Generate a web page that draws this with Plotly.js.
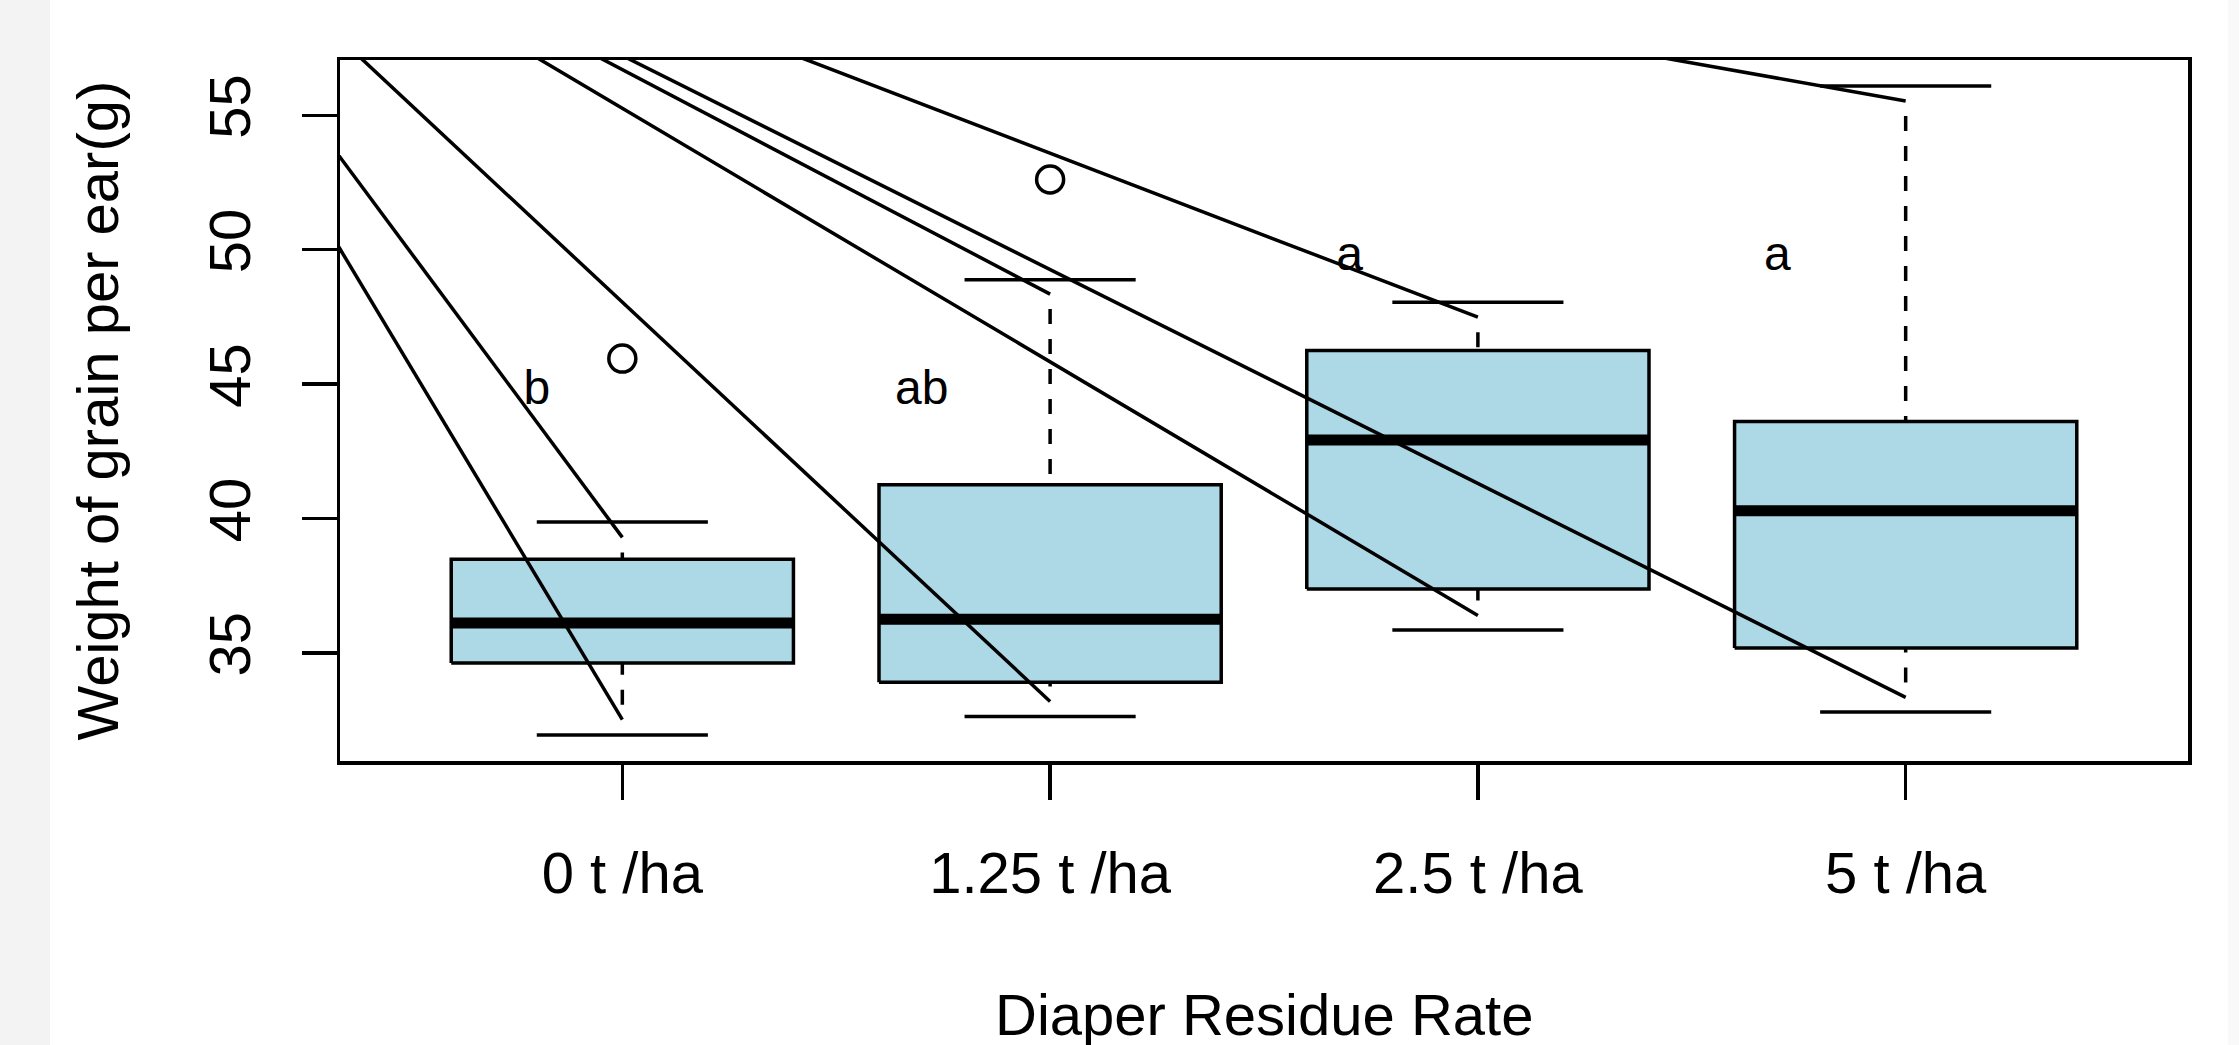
<!DOCTYPE html>
<html>
<head>
<meta charset="utf-8">
<script src="https://cdn.plot.ly/plotly-3.0.1.min.js"></script>
<style>
  html, body { margin: 0; padding: 0; background: #ffffff; }
  #chart { width: 2239px; height: 1045px; }
</style>
</head>
<body>
<div id="chart"></div>
<script>
// ---- data ----
const categories = ["0 t /ha", "1.25 t /ha", "2.5 t /ha", "5 t /ha"];
const groupPos   = [1, 2, 3, 4];
const capLow     = [31.95, 32.64, 35.86, 32.81];
const whiskerLow = [32.52, 33.20, 36.40, 33.35];
const q1Values   = [34.63, 33.91, 37.38, 35.19];
const medians    = [36.12, 36.26, 42.92, 40.29];
const q3Values   = [38.49, 41.26, 46.25, 43.61];
const whiskerHigh= [39.30, 48.35, 47.49, 55.53];
const capHigh    = [39.87, 48.88, 48.05, 56.09];
const outlierX   = [1, 2];
const outlierY   = [45.95, 52.61];
const letterText = ["b", "ab", "a", "a"];
const letterX    = [0.8, 1.7, 2.7, 3.7];
const letterY    = [44.7, 44.7, 49.7, 49.7];
const leaderOrigin = [-0.33, 67.8];   // common start of the stray leader lines
const yTicks     = [35, 40, 45, 50, 55];

// ---- geometry / styles ----
const FONT = "Liberation Sans, Arial, Helvetica, sans-serif";
const BOX_HALF = 0.4, CAP_HALF = 0.2;
const LW = 3.5;
const W = 2239, H = 1045;
const M = { l: 340, r: 51, t: 60, b: 284 };
const plotW = W - M.l - M.r, plotH = H - M.t - M.b;
const px2x = px => (px - M.l) / plotW;
const px2y = py => (H - M.b - py) / plotH;

const lo = Math.min(...capLow), hi = Math.max(...capHigh);
const yRange = [lo - 0.04 * (hi - lo), hi + 0.04 * (hi - lo)];
const xRange = [0.5 - 0.04 * 4, 4.5 + 0.04 * 4];

// box bodies
const bx = [], by = [];
groupPos.forEach((g, i) => {
  bx.push(g - BOX_HALF, g + BOX_HALF, g + BOX_HALF, g - BOX_HALF, g - BOX_HALF, null);
  by.push(q1Values[i], q1Values[i], q3Values[i], q3Values[i], q1Values[i], null);
});
// medians
const mx = [], my = [];
groupPos.forEach((g, i) => { mx.push(g - BOX_HALF, g + BOX_HALF, null); my.push(medians[i], medians[i], null); });
// caps
const cx = [], cy = [];
groupPos.forEach((g, i) => {
  cx.push(g - CAP_HALF, g + CAP_HALF, null, g - CAP_HALF, g + CAP_HALF, null);
  cy.push(capLow[i], capLow[i], null, capHigh[i], capHigh[i], null);
});
// dashed whiskers (start at whisker end so dash phase matches)
const wx = [], wy = [];
groupPos.forEach((g, i) => {
  wx.push(g, g, null, g, g, null);
  wy.push(whiskerHigh[i], q3Values[i], null, whiskerLow[i], q1Values[i], null);
});
// stray leader lines from common origin to whisker ends
const lx = [], ly = [];
groupPos.forEach((g, i) => {
  lx.push(leaderOrigin[0], g, null, leaderOrigin[0], g, null);
  ly.push(leaderOrigin[1], whiskerHigh[i], null, leaderOrigin[1], whiskerLow[i], null);
});

const traces = [
  { type: "scatter", mode: "lines", x: bx, y: by, fill: "toself", fillcolor: "#ADD8E6",
    line: { color: "#000", width: LW }, hoverinfo: "skip", showlegend: false },
  { type: "scatter", mode: "lines", x: mx, y: my, line: { color: "#000", width: 11 },
    hoverinfo: "skip", showlegend: false },
  { type: "scatter", mode: "lines", x: wx, y: wy, line: { color: "#000", width: LW, dash: "0px,15px,15px,0px" },
    hoverinfo: "skip", showlegend: false },
  { type: "scatter", mode: "lines", x: cx, y: cy, line: { color: "#000", width: LW },
    hoverinfo: "skip", showlegend: false },
  { type: "scatter", mode: "lines", x: lx, y: ly, line: { color: "#000", width: LW },
    hoverinfo: "skip", showlegend: false },
  { type: "scatter", mode: "markers", x: outlierX, y: outlierY,
    marker: { symbol: "circle-open", size: 27, color: "#000", line: { color: "#000", width: 3.5 } },
    hoverinfo: "skip", showlegend: false },
  { type: "scatter", mode: "text", x: letterX, y: letterY, text: letterText,
    textposition: "middle center", textfont: { family: FONT, size: 48, color: "#000" },
    hoverinfo: "skip", showlegend: false }
];

const layout = {
  width: W, height: H,
  margin: M,
  paper_bgcolor: "#ffffff", plot_bgcolor: "#ffffff",
  showlegend: false,
  font: { family: FONT, color: "#000", size: 58 },
  xaxis: {
    range: xRange, tickmode: "array", tickvals: groupPos, ticktext: categories,
    ticks: "outside", ticklen: 35, tickwidth: LW, tickcolor: "#000",
    showline: true, mirror: true, linewidth: LW, linecolor: "#000",
    showgrid: false, zeroline: false, ticklabelstandoff: 24,
    tickfont: { family: FONT, size: 58, color: "#000" }
  },
  yaxis: {
    range: yRange, tickmode: "array", tickvals: yTicks,
    ticks: "outside", ticklen: 35, tickwidth: LW, tickcolor: "#000", tickangle: -90,
    showline: true, mirror: true, linewidth: LW, linecolor: "#000",
    showgrid: false, zeroline: false, ticklabelstandoff: 28,
    tickfont: { family: FONT, size: 58, color: "#000" }
  },
  shapes: [
    { type: "rect", xref: "paper", yref: "paper", x0: px2x(0), x1: px2x(50), y0: px2y(H), y1: px2y(0),
      fillcolor: "#f3f3f3", line: { width: 0 }, layer: "below" },
    { type: "rect", xref: "paper", yref: "paper", x0: px2x(2228), x1: px2x(W), y0: px2y(H), y1: px2y(0),
      fillcolor: "#f9f9f9", line: { width: 0 }, layer: "below" }
  ],
  annotations: [
    { text: "Diaper Residue Rate", xref: "paper", yref: "paper", x: 0.5, y: px2y(1014),
      xanchor: "center", yanchor: "middle", showarrow: false,
      font: { family: FONT, size: 58, color: "#000" } },
    { text: "Weight of grain per ear(g)", xref: "paper", yref: "paper", x: px2x(97), y: 0.5,
      xanchor: "center", yanchor: "middle", textangle: -90, showarrow: false,
      font: { family: FONT, size: 58, color: "#000" } }
  ]
};

Plotly.newPlot("chart", traces, layout, { displayModeBar: false, staticPlot: true });
</script>
</body>
</html>
